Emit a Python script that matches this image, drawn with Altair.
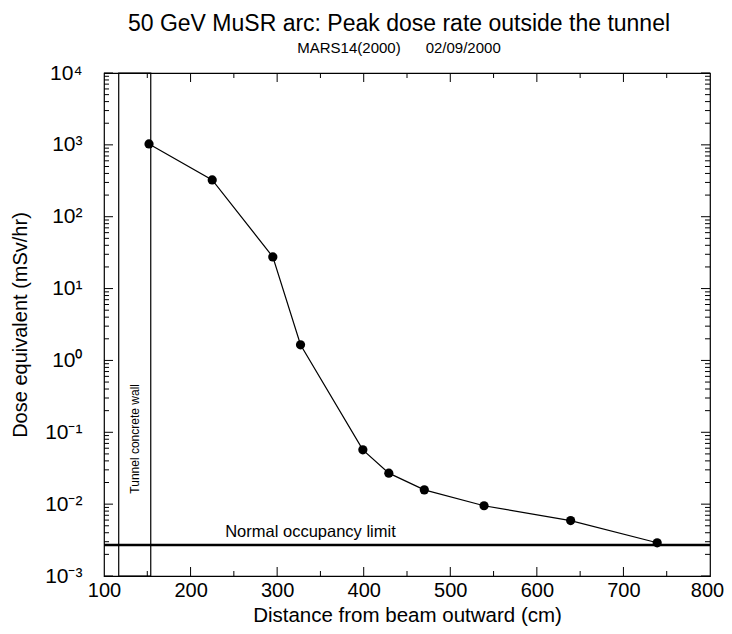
import altair as alt
import pandas as pd

# Data
distance_cm = [152, 225, 295, 327, 399, 429, 470, 539, 639, 739]
dose_msv_hr = [1030, 325, 27.6, 1.65, 0.057, 0.027, 0.0158, 0.0095, 0.0059, 0.0029]

wall_start, wall_end = 117, 154
wall_label = "Tunnel concrete wall"
occupancy_limit = 0.0027
occupancy_label = "Normal occupancy limit"
occupancy_label_x = 240

x_ticks = [100, 200, 300, 400, 500, 600, 700, 800]
x_minor = [150, 250, 350, 450, 550, 650, 750]
y_ticks = [1e-3, 1e-2, 1e-1, 1e0, 1e1, 1e2, 1e3, 1e4]
y_tick_labels = ["10⁻³", "10⁻²", "10⁻¹", "10⁰", "10¹", "10²", "10³", "10⁴"]
y_minor = [m * d for d in [1e-3, 1e-2, 1e-1, 1e0, 1e1, 1e2, 1e3] for m in range(2, 10)]

W, H = 606, 503
FONT = "Liberation Sans"

pts = pd.DataFrame({"x": distance_cm, "y": dose_msv_hr})

xs = alt.Scale(domain=[100, 800], nice=False, zero=False)
ys = alt.Scale(type="log", domain=[1e-3, 1e4], nice=False)

label_expr = "[" + ",".join(f"'{s}'" for s in y_tick_labels) + "][round(log(datum.value)/LN10)+3]"

x_axis = alt.Axis(values=x_ticks, ticks=False, domain=False, grid=False, labelFontSize=20,
                  labelPadding=4, titleFontSize=20.5, titlePadding=5, labelFont=FONT, titleFont=FONT,
                  labelColor="black", titleColor="black", titleFontWeight="normal", labelFlush=False,
                  labelOffset={"condition": {"test": "datum.value >= 800", "value": -3}, "value": 0})
y_axis = alt.Axis(values=y_ticks, ticks=False, domain=False, grid=False, labelFontSize=21,
                  labelPadding=22, titleFontSize=20, titlePadding=14, labelFont=FONT, titleFont=FONT,
                  labelColor="black", titleColor="black", titleFontWeight="normal",
                  labelExpr=label_expr, labelFlush=False)

line = alt.Chart(pts).mark_line(color="black", strokeWidth=1.2).encode(
    x=alt.X("x:Q", scale=xs, axis=x_axis, title="Distance from beam outward (cm)"),
    y=alt.Y("y:Q", scale=ys, axis=y_axis, title="Dose equivalent (mSv/hr)"),
)
points = alt.Chart(pts).mark_circle(color="black", size=85, opacity=1).encode(
    x=alt.X("x:Q", scale=xs), y=alt.Y("y:Q", scale=ys)
)

wall = alt.Chart(pd.DataFrame({"a": [wall_start], "b": [wall_end], "lo": [1e-3], "hi": [1e4]})).mark_rect(
    fillOpacity=0, stroke="black", strokeWidth=1.2
).encode(x=alt.X("a:Q", scale=xs), x2="b:Q", y=alt.Y("lo:Q", scale=ys), y2="hi:Q")

wall_text = alt.Chart(pd.DataFrame({"x": [(wall_start + wall_end) / 2], "y": [0.014], "t": [wall_label]})).mark_text(
    angle=270, align="left", baseline="middle", fontSize=12, font=FONT, color="black"
).encode(x=alt.X("x:Q", scale=xs), y=alt.Y("y:Q", scale=ys), text="t:N")

occ = alt.Chart(pd.DataFrame({"y": [occupancy_limit]})).mark_rule(color="black", strokeWidth=2.5).encode(
    y=alt.Y("y:Q", scale=ys), x=alt.value(0), x2=alt.value(W)
)
occ_text = alt.Chart(pd.DataFrame({"x": [occupancy_label_x], "y": [occupancy_limit], "t": [occupancy_label]})).mark_text(
    align="left", baseline="bottom", dy=-5, fontSize=16.5, font=FONT, color="black"
).encode(x=alt.X("x:Q", scale=xs), y=alt.Y("y:Q", scale=ys), text="t:N")

# inward ticks
ymaj = pd.DataFrame({"v": y_ticks})
ymin = pd.DataFrame({"v": y_minor})
xmaj = pd.DataFrame({"v": x_ticks[1:-1]})
xmin = pd.DataFrame({"v": x_minor})

def yt(df, length, right=False):
    x0 = W - length if right else 0
    return alt.Chart(df).mark_rule(color="black", strokeWidth=1).encode(
        y=alt.Y("v:Q", scale=ys), x=alt.value(x0), x2=alt.value(x0 + length))

def xt(df, length, top=False):
    y0 = 0 if top else H - length
    return alt.Chart(df).mark_rule(color="black", strokeWidth=1).encode(
        x=alt.X("v:Q", scale=xs), y=alt.value(y0), y2=alt.value(y0 + length))

ticks = [yt(ymaj, 9), yt(ymin, 5), yt(ymaj, 9, True), yt(ymin, 5, True),
         xt(xmaj, 9), xt(xmin, 5), xt(xmaj, 9, True), xt(xmin, 5, True)]

chart = alt.layer(wall, occ, line, points, wall_text, occ_text, *ticks).properties(
    width=W, height=H,
    title=alt.TitleParams(
        text="50 GeV MuSR arc: Peak dose rate outside the tunnel",
        subtitle="MARS14(2000)\u00a0\u00a0\u00a0\u00a0\u00a0\u00a002/09/2000",
        fontSize=23, subtitleFontSize=15, font=FONT, subtitleFont=FONT,
        fontWeight="normal", color="black", subtitleColor="black",
        anchor="middle", offset=6, subtitlePadding=5, dx=-8,
    ),
    autosize=alt.AutoSizeParams(type="none"),
    padding={"left": 96, "top": 65, "right": 14, "bottom": 50},
    background="white",
).configure_view(stroke="black", strokeWidth=1.2)

chart.save("out.html", embed_options={"renderer": "svg", "actions": False})
